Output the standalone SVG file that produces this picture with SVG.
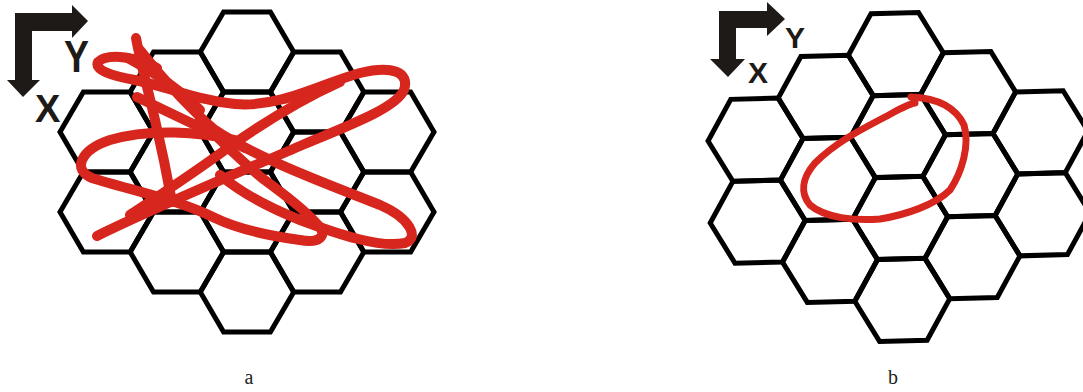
<svg xmlns="http://www.w3.org/2000/svg" xmlns:xlink="http://www.w3.org/1999/xlink" width="1083" height="392" viewBox="0 0 1083 392">
<style>
.hex{fill:none;stroke:#000;stroke-width:5;stroke-linejoin:miter}
.axis{fill:#1d1a18}
.axl{font-family:"Liberation Sans",Arial,sans-serif;font-weight:bold;fill:#1d1a18}
.scr{fill:none;stroke:#d6261d;stroke-linecap:round;stroke-linejoin:round}
.cap{font-family:"Liberation Serif","Times New Roman",serif;font-size:20px;fill:#222;text-anchor:middle}
</style>
<defs>
<polygon id="hexA" points="-46.75,0 -23.4,-40 23.4,-40 46.75,0 23.4,40 -23.4,40"/>
<polygon id="hexB" points="-47.5,0 -23.75,-41 23.75,-41 47.5,0 23.75,41 -23.75,41"/>
</defs>
<rect width="1083" height="392" fill="#fff"/>

<g id="panel-a">
<g id="grid-a" class="hex" transform="translate(247,132)">
<use xlink:href="#hexA" x="-140.25" y="0"/>
<use xlink:href="#hexA" x="-140.25" y="80"/>
<use xlink:href="#hexA" x="-70.1" y="-40"/>
<use xlink:href="#hexA" x="-70.1" y="40"/>
<use xlink:href="#hexA" x="-70.1" y="120"/>
<use xlink:href="#hexA" x="0" y="-80"/>
<use xlink:href="#hexA" x="0" y="0"/>
<use xlink:href="#hexA" x="0" y="80"/>
<use xlink:href="#hexA" x="0" y="160"/>
<use xlink:href="#hexA" x="70.1" y="-40"/>
<use xlink:href="#hexA" x="70.1" y="40"/>
<use xlink:href="#hexA" x="70.1" y="120"/>
<use xlink:href="#hexA" x="140.25" y="0"/>
<use xlink:href="#hexA" x="140.25" y="80"/>
</g>
<g id="axes-a">
<polygon class="axis" points="15,13 72,13 72,5 88,21 72,38 72,31 32,31 32,80 40,80 23,97 7,80 15,80"/>
<text class="axl" font-size="44" transform="translate(64,72) scale(0.85,1)">Y</text>
<text class="axl" font-size="38" x="35" y="122">X</text>
</g>
<g id="scribble-a" class="scr" stroke-width="10">
<path d="M157,68 C140,58 108,52 98,62 C94,70 112,76 135,80 C165,86 195,100 235,104 C280,108 320,84 360,73 C392,65 410,72 404,90 C396,108 350,125 300,146 C240,172 160,205 97,236"/>
<path d="M340,82 C300,100 260,125 225,150 C195,172 160,195 130,215"/>
<path d="M136,38 C140,60 148,90 155,120 C162,150 168,180 172,202"/>
<path d="M140,50 C160,75 185,105 215,130 C260,160 330,185 380,205 C410,218 420,238 405,243 C380,248 340,235 300,220 C270,208 240,192 220,175"/>
<path d="M235,140 C200,132 150,128 110,140 C80,150 72,170 92,178 C130,190 180,200 215,218 C240,230 270,236 300,240 C320,244 328,235 318,225 C305,210 285,195 262,178 C240,160 220,140 200,120"/>
<path d="M137,97 C170,113 205,130 245,148"/>
<path d="M128,58 C150,70 175,85 200,110"/>
</g>
<text id="label-a" class="cap" x="249" y="384">a</text>
</g>

<g id="panel-b">
<g id="grid-b" class="hex" transform="translate(898,136) rotate(-1.5)">
<use xlink:href="#hexB" x="-142.5" y="0"/>
<use xlink:href="#hexB" x="-142.5" y="82"/>
<use xlink:href="#hexB" x="-71.25" y="-41"/>
<use xlink:href="#hexB" x="-71.25" y="41"/>
<use xlink:href="#hexB" x="-71.25" y="123"/>
<use xlink:href="#hexB" x="0" y="-82"/>
<use xlink:href="#hexB" x="0" y="0"/>
<use xlink:href="#hexB" x="0" y="82"/>
<use xlink:href="#hexB" x="0" y="164"/>
<use xlink:href="#hexB" x="71.25" y="-41"/>
<use xlink:href="#hexB" x="71.25" y="41"/>
<use xlink:href="#hexB" x="71.25" y="123"/>
<use xlink:href="#hexB" x="142.5" y="0"/>
<use xlink:href="#hexB" x="142.5" y="82"/>
</g>
<g id="axes-b">
<polygon class="axis" points="719,11 767,11 767,2 785,19 767,36 767,28 736,28 736,59 745,59 728,77 710,59 719,59"/>
<text class="axl" font-size="30" x="785" y="48">Y</text>
<text class="axl" font-size="30" x="748" y="83">X</text>
</g>
<g id="scribble-b" class="scr" stroke-width="7">
<path d="M911,97 C935,98 955,106 964,125 C970,145 962,172 950,190 C935,205 905,215 880,219 C855,221 825,218 810,205 C800,193 802,178 815,163 C835,143 860,130 885,117 C898,110 908,104 915,103"/>
</g>
<text id="label-b" class="cap" x="893" y="384">b</text>
</g>
</svg>
